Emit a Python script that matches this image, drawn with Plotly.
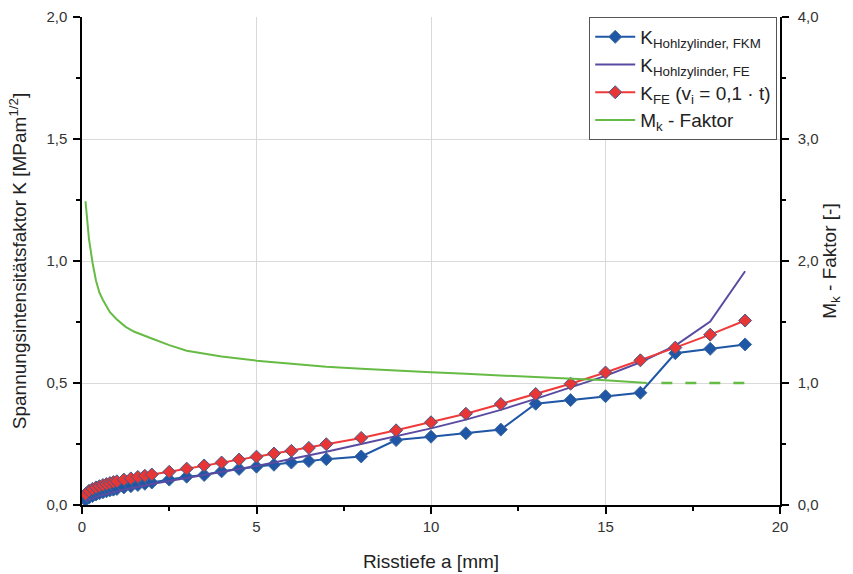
import plotly.graph_objects as go

# crack depth grid (mm)
x_vals = [0.1, 0.2, 0.3, 0.4, 0.5, 0.6, 0.7, 0.8, 0.9, 1.0,
          1.2, 1.4, 1.6, 1.8, 2.0, 2.5, 3.0, 3.5, 4.0, 4.5, 5.0,
          5.5, 6.0, 6.5, 7.0, 8, 9, 10, 11, 12, 13, 14, 15, 16, 17, 18, 19]

k_fkm = [0.020, 0.030, 0.037, 0.043, 0.048, 0.052, 0.056, 0.060, 0.063, 0.066,
         0.072, 0.077, 0.082, 0.087, 0.092, 0.104, 0.116, 0.123, 0.138, 0.148, 0.157,
         0.165, 0.174, 0.180, 0.188, 0.199, 0.266, 0.280, 0.294, 0.309, 0.415, 0.430,
         0.446, 0.460, 0.622, 0.640, 0.658]

k_fe = [0.015, 0.022, 0.028, 0.033, 0.038, 0.042, 0.046, 0.050, 0.053, 0.057,
        0.063, 0.069, 0.075, 0.080, 0.086, 0.098, 0.110, 0.122, 0.134, 0.147, 0.160,
        0.174, 0.188, 0.203, 0.218, 0.250, 0.282, 0.314, 0.350, 0.390, 0.435, 0.483,
        0.529, 0.585, 0.653, 0.752, 0.958]

k_fe_vi = [0.045, 0.058, 0.066, 0.072, 0.077, 0.082, 0.086, 0.090, 0.094, 0.097,
           0.104, 0.109, 0.115, 0.120, 0.125, 0.136, 0.149, 0.162, 0.174, 0.186, 0.198,
           0.211, 0.222, 0.234, 0.249, 0.275, 0.306, 0.339, 0.374, 0.414, 0.455, 0.497,
           0.543, 0.593, 0.645, 0.698, 0.756]

mk_x = [0.1, 0.2, 0.3, 0.4, 0.5, 0.6, 0.8, 1.0, 1.25, 1.5, 2.0, 2.5, 3, 4, 5, 6, 7, 8,
        9, 10, 11, 12, 13, 14, 15, 16.2]
mk_y = [2.49, 2.18, 1.99, 1.84, 1.74, 1.68, 1.58, 1.52, 1.46, 1.42, 1.365, 1.31, 1.265,
        1.218, 1.183, 1.156, 1.134, 1.116, 1.100, 1.088, 1.075, 1.062, 1.053, 1.038,
        1.022, 1.000]
mk_dash_x = [16.6, 19]
mk_dash_y = [1.0, 1.0]

BLUE = "#1f57a6"
PURPLE = "#5a4ba2"
RED = "#f03a3a"
GREEN = "#66bb44"
FONT = "Liberation Sans, Arial, sans-serif"

fig = go.Figure()
fig.add_trace(go.Scatter(
    x=x_vals, y=k_fkm, mode="lines+markers",
    name="K<sub>Hohlzylinder, FKM</sub>",
    line=dict(color=BLUE, width=2),
    marker=dict(symbol="diamond", size=10, color=BLUE, line=dict(color="#3f6a9c", width=1))))
fig.add_trace(go.Scatter(
    x=x_vals, y=k_fe, mode="lines",
    name="K<sub>Hohlzylinder, FE</sub>",
    line=dict(color=PURPLE, width=2)))
fig.add_trace(go.Scatter(
    x=x_vals, y=k_fe_vi, mode="lines+markers",
    name="K<sub>FE</sub> (v<sub>i</sub> = 0,1 · t)",
    line=dict(color=RED, width=2),
    marker=dict(symbol="diamond", size=10, color="#e83535", line=dict(color="#3d5c8c", width=1))))
fig.add_trace(go.Scatter(
    x=mk_x, y=mk_y, mode="lines", yaxis="y2",
    name="M<sub>k</sub> - Faktor",
    line=dict(color=GREEN, width=2)))
fig.add_trace(go.Scatter(
    x=mk_dash_x, y=mk_dash_y, mode="lines", yaxis="y2", showlegend=False,
    line=dict(color=GREEN, width=2.5, dash="11px,13px")))

axis_common = dict(showline=True, linecolor="black", linewidth=1.5, ticks="outside",
                   ticklen=7, tickwidth=1.5, tickcolor="black", automargin=False,
                   tickfont=dict(family=FONT, size=15, color="#333"), zeroline=False)
TITLE_FONT = dict(family=FONT, size=19, color="#222")

fig.update_layout(
    width=853, height=574,
    margin=dict(l=82, r=73, t=17, b=69),
    paper_bgcolor="white", plot_bgcolor="white",
    font=dict(family=FONT, color="#222"),
    separators=",.",
    showlegend=True,
    legend=dict(x=0.996, xanchor="right", y=1, yanchor="top",
                bgcolor="white", bordercolor="#555", borderwidth=1,
                font=dict(family=FONT, size=19, color="#222"),
                tracegroupgap=0, itemwidth=40),
    xaxis=dict(range=[0, 20], dtick=5, showgrid=True, gridcolor="#d9d9d9", gridwidth=1,
               title=dict(text="Risstiefe a [mm]", font=TITLE_FONT, standoff=21),
               minor=dict(dtick=2.5, ticks="outside", ticklen=4, tickcolor="black", showgrid=False),
               **axis_common),
    yaxis=dict(range=[0, 2.0], dtick=0.5, tickformat=".1f", showgrid=True, gridcolor="#d9d9d9", gridwidth=1,
               ticklabelstandoff=3,
               title=dict(text="Spannungsintensitätsfaktor K [MPam<sup>1/2</sup>]",
                          font=TITLE_FONT, standoff=15),
               minor=dict(dtick=0.25, ticks="outside", ticklen=4, tickcolor="black", showgrid=False),
               **axis_common),
    yaxis2=dict(range=[0, 4.0], dtick=1.0, tickformat=".1f", overlaying="y", side="right",
                showgrid=False, anchor="x", ticklabelstandoff=6,
                title=dict(text="M<sub>k</sub> - Faktor [-]", font=TITLE_FONT, standoff=5),
                minor=dict(dtick=0.5, ticks="outside", ticklen=4, tickcolor="black", showgrid=False),
                **axis_common),
)

fig.write_html("out.html", config={"displayModeBar": False},
               post_script="document.body.style.margin='0';")
